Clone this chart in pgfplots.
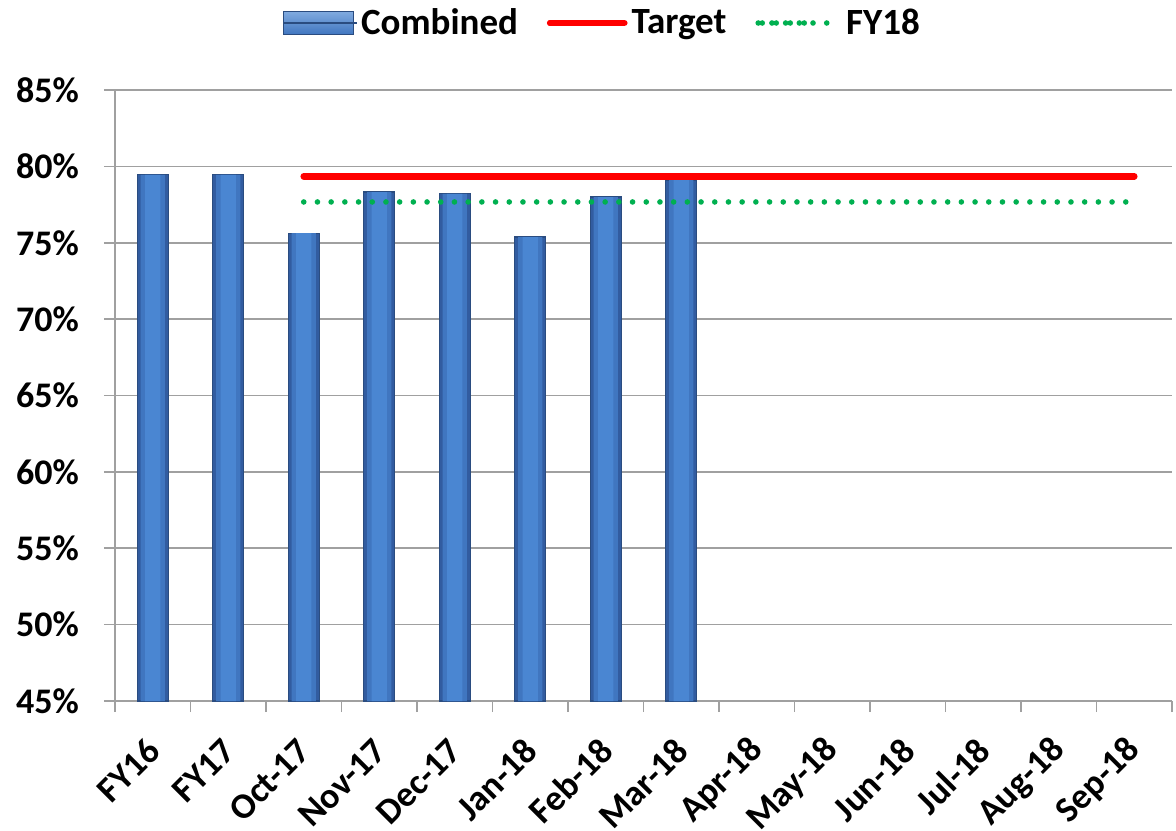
\documentclass[border=0pt]{standalone}
\usepackage{pgfplots}
\pgfplotsset{compat=1.18}
\usepackage{fontspec}
\setmainfont{Carlito}
\definecolor{barL}{RGB}{50,92,160}
\definecolor{barM}{RGB}{64,118,192}
\definecolor{barH}{RGB}{74,134,210}
\definecolor{barEdge}{RGB}{42,76,128}
\definecolor{tgtred}{RGB}{255,0,0}
\definecolor{fygreen}{RGB}{0,176,80}
\definecolor{gridgray}{RGB}{160,160,160}
\pgfplotstableread{
x y
0 79.45
1 79.45
2 75.63
3 78.32
4 78.20
5 75.37
6 77.99
7 79.11
}\combined
\pgfplotstableread{
x y
2 79.35
13 79.35
}\target
\pgfplotstableread{
x y
2 77.67
13 77.67
}\fyeighteen
\begin{document}
\begin{tikzpicture}
\begin{axis}[
  scale only axis,
  width=528.5pt, height=305.5pt,
  xmin=-0.5, xmax=13.5, ymin=45, ymax=85,
  axis lines=left,
  axis line style={-, draw=gridgray, line width=1pt},
  ytick={45,50,...,85},
  yticklabel={\pgfmathprintnumber{\tick}\%},
  /pgf/number format/assume math mode=true,
  ymajorgrids,
  grid style={draw=gridgray, line width=0.85pt},
  tick align=outside,
  major tick length=5.5pt,
  minor tick length=5.5pt,
  tick style={draw=gridgray, line width=0.85pt},
  xtick={0,...,13},
  xticklabels={FY16,FY17,Oct-17,Nov-17,Dec-17,Jan-18,Feb-18,Mar-18,Apr-18,May-18,Jun-18,Jul-18,Aug-18,Sep-18},
  every major x tick/.append style={draw=none},
  minor xtick={-0.5,0.5,...,13.5},
  ticklabel style={font=\fontsize{18}{21}\selectfont\bfseries},
  yticklabel style={xshift=-9pt},
  xticklabel style={rotate=45, anchor=east, inner sep=0pt, xshift=-11.3pt, yshift=-12pt},
  legend style={at={(0.462,1)}, anchor=center, yshift=33.5pt, draw=none,
    font=\fontsize{18.5}{21}\selectfont\bfseries, legend columns=3,
    /tikz/every even column/.append style={column sep=12.5pt},
    inner sep=0pt},
  clip=true,
]
\addplot[ybar, bar shift=0pt, bar width=0.41, draw=barEdge, line width=0.6pt, fill=barL,
  legend image code/.code={%
    \draw[barEdge, line width=0.6pt, top color=barH!70!white, bottom color=barM] (0pt,-5.75pt) rectangle (35pt,5.75pt); \path (0pt,0pt) -- (36.5pt,0pt);}]
  table[x=x, y=y] {\combined};
\addlegendentry{Combined}
\addplot[forget plot, ybar, bar shift=0pt, bar width=0.32, draw=none, fill=barM] table[x=x, y=y] {\combined};
\addplot[forget plot, ybar, bar shift=0pt, bar width=0.2, draw=none, fill=barH] table[x=x, y=y] {\combined};
\addplot[tgtred, line width=3.3pt, line cap=round, mark=none,
  legend image code/.code={\draw[tgtred, line width=3.3pt, line cap=round] (0pt,0pt) -- (35pt,0pt); \path (0pt,0pt) -- (37pt,0pt);}]
  table[x=x, y=y] {\target};
\addlegendentry{Target}
\addplot[fygreen, line width=2.8pt, line cap=round, dash pattern=on 0pt off 6.85pt, mark=none,
  legend image code/.code={\draw[fygreen, line width=2.8pt, line cap=round, dash pattern=on 0pt off 7pt] (2pt,0pt) -- (30pt,0pt); \path (0pt,0pt) -- (40.5pt,0pt);}]
  table[x=x, y=y] {\fyeighteen};
\addlegendentry{FY18}
\end{axis}
\pgfresetboundingbox
\path ([shift={(-57.5pt,-64.5pt)}]current axis.south west) rectangle ([shift={(2pt,45pt)}]current axis.north east);
\end{tikzpicture}
\end{document}
